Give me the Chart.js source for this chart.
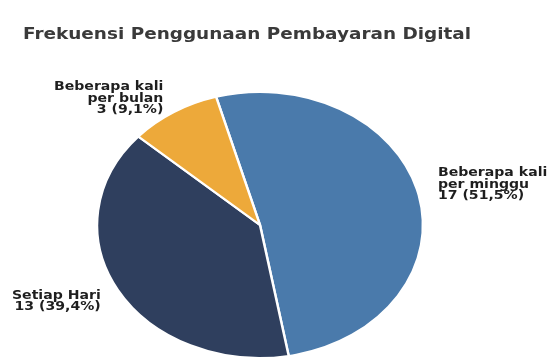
<!DOCTYPE html>
<html>
<head>
<meta charset="utf-8">
<script src="https://cdn.jsdelivr.net/npm/chart.js@4.4.1/dist/chart.umd.min.js"></script>
<style>
  html, body { margin: 0; padding: 0; background: #fff; }
  #wrap { position: relative; width: 554px; height: 360px; overflow: hidden; }
  #judul {
    position: absolute; left: 23px; top: 25px; margin: 0;
    font: bold 15px "DejaVu Sans", sans-serif; color: #3a3a3a; white-space: nowrap;
    transform: scaleX(1.228); transform-origin: left center;
  }
  #chart { position: absolute; left: 0; top: 0; }
</style>
</head>
<body>
<div id="wrap">
  <canvas id="chart" width="554" height="360"></canvas>
  <p id="judul">Frekuensi Penggunaan Pembayaran Digital</p>
</div>
<script>
// Data frekuensi
const kategori = [['Beberapa kali', 'per minggu'], ['Setiap Hari'], ['Beberapa kali', 'per bulan']];
const jumlah = [17, 13, 3];
const persen = ['51,5%', '39,4%', '9,1%'];
const warna = ['#4a7aab', '#2f3f5e', '#eda93a'];

// Seluruh gambar sedikit melebar, pie jadi elips
const skalaX = 1.225;
// geser label sedikit (px, vertikal)
const geserLabel = [-7, 4, 0];

const elipsPlugin = {
  id: 'elips',
  beforeDatasetsDraw(chart) {
    const arc = chart.getDatasetMeta(0).data[0];
    const ctx = chart.ctx;
    ctx.save();
    ctx.translate(arc.x, 0);
    ctx.scale(skalaX, 1);
    ctx.translate(-arc.x, 0);
  },
  afterDatasetsDraw(chart) {
    chart.ctx.restore();
  }
};

// Label di luar potongan pie
const labelPlugin = {
  id: 'labelLuar',
  afterDraw(chart) {
    const ctx = chart.ctx;
    const meta = chart.getDatasetMeta(0);
    meta.data.forEach((arc, i) => {
      const mid = (arc.startAngle + arc.endAngle) / 2;
      const r = arc.outerRadius * 1.12;
      const x = arc.x + Math.cos(mid) * r * skalaX;
      const y = arc.y + Math.sin(mid) * r + geserLabel[i];
      const baris = kategori[i].concat([jumlah[i] + ' (' + persen[i] + ')']);
      const tinggi = 11.5;
      const y0 = y - (baris.length - 1) * tinggi / 2;
      ctx.save();
      ctx.translate(x, 0);
      ctx.scale(skalaX, 1);
      ctx.font = 'bold 11.5px "DejaVu Sans", sans-serif';
      ctx.fillStyle = '#1e1e1e';
      ctx.textBaseline = 'middle';
      ctx.textAlign = Math.cos(mid) >= 0 ? 'left' : 'right';
      baris.forEach((t, j) => ctx.fillText(t, 0, y0 + j * tinggi));
      ctx.restore();
    });
  }
};

new Chart(document.getElementById('chart'), {
  type: 'pie',
  data: {
    labels: kategori.map(k => k.join(' ')),
    datasets: [{
      data: jumlah,
      backgroundColor: warna,
      borderColor: '#ffffff',
      borderWidth: 2
    }]
  },
  options: {
    responsive: false,
    animation: false,
    events: [],
    rotation: -15.6,
    radius: 133,
    layout: { padding: { left: 0, right: 34, top: 90, bottom: 0 } },
    plugins: {
      legend: { display: false },
      tooltip: { enabled: false }
    }
  },
  plugins: [elipsPlugin, labelPlugin]
});
</script>
</body>
</html>
